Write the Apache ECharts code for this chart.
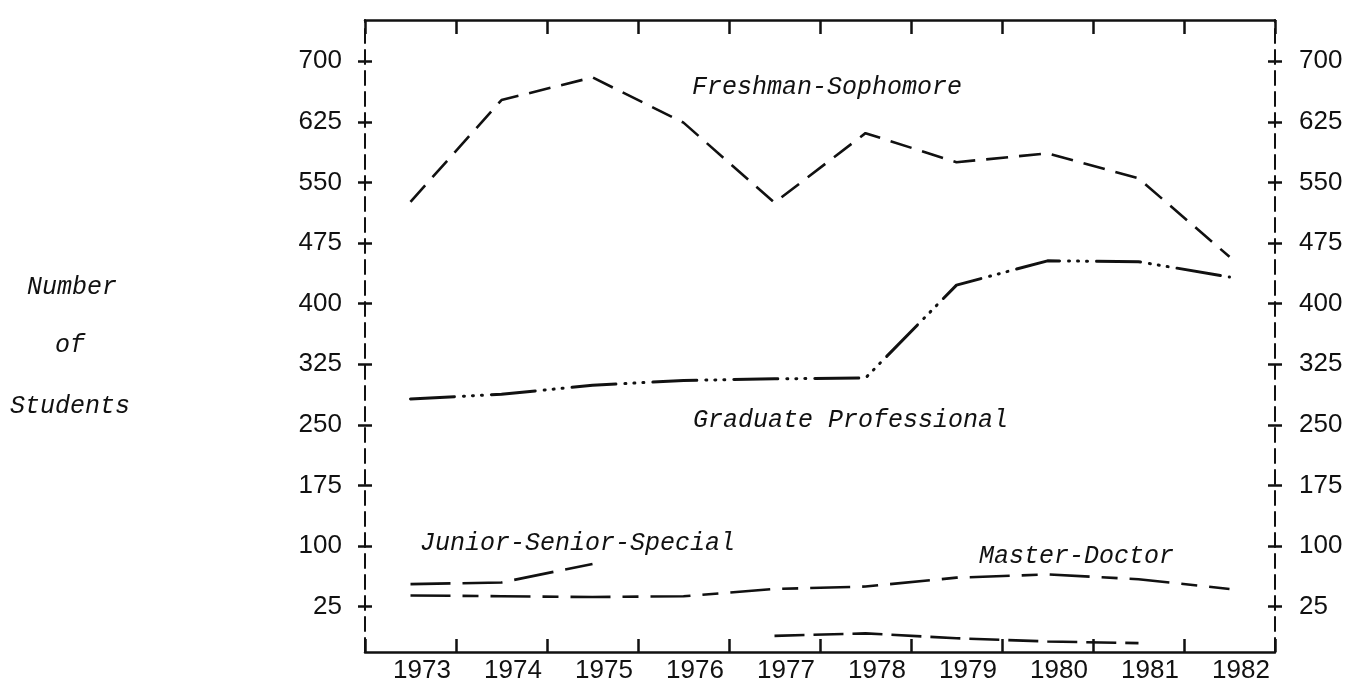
<!DOCTYPE html>
<html>
<head>
<meta charset="utf-8">
<script src="https://cdn.jsdelivr.net/npm/echarts@6/dist/echarts.min.js"></script>
<style>
html,body{margin:0;padding:0;background:#ffffff;}
#chart{width:1362px;height:686px;}
</style>
</head>
<body>
<div id="chart"></div>
<script>
// ---- data ----
const years = ['1973','1974','1975','1976','1977','1978','1979','1980','1981','1982'];
const yTickValues = [25, 100, 175, 250, 325, 400, 475, 550, 625, 700];
const freshmanSophomore    = [526, 652, 680, 624, 525, 611, 575, 586, 555, 458];
const graduateProfessional = [282, 288, 299, 305, 307, 308, 423, 453, 452, 433];
const juniorSeniorSpecial  = [53, 55, 78, null, null, null, null, null, null, null];
const masterDoctor         = [39, 38, 37, 38, 47, 50, 61, 65, 59, 47];
const lowUnlabeled         = [null, null, null, null, -11, -8, -14, -18, -20, null];
const yAxisTitle = ['Number', 'of', 'Students'];

// ---- styling ----
const INK = '#111111';
const NUM_FONT = '"Liberation Sans", Arial, sans-serif';
const TYPE_FONT = '"Liberation Mono", "Courier New", monospace';

function yAxisDef(position, inside, showLabel, showLine) {
  return {
    type: 'value',
    position: position,
    min: -31,
    max: 751,
    splitLine: { show: false },
    axisLine: { show: showLine, onZero: false, lineStyle: { color: INK, width: 2, type: [14, 7] } },
    axisTick: { show: true, inside: inside, length: 7, customValues: yTickValues,
                lineStyle: { color: INK, width: 2.5 } },
    axisLabel: { show: showLabel, customValues: yTickValues,
                 margin: position === 'left' ? 23 : 24,
                 color: INK, fontFamily: NUM_FONT, fontSize: 26 }
  };
}

function xAxisDef(position, showLabel, tickLen) {
  return {
    type: 'category',
    data: years,
    position: position,
    boundaryGap: true,
    axisLine: { show: true, onZero: false, lineStyle: { color: INK, width: 2.5 } },
    axisTick: { show: true, inside: true, length: tickLen, lineStyle: { color: INK, width: 2.5 } },
    axisLabel: { show: showLabel, margin: 6, padding: [0, 0, 0, 23],
                 color: INK, fontFamily: NUM_FONT, fontSize: 26 },
    splitLine: { show: false }
  };
}

function lineSeries(name, data, dash, cap, width) {
  return {
    name: name,
    type: 'line',
    data: data,
    xAxisIndex: 0,
    yAxisIndex: 0,
    symbol: 'none',
    connectNulls: false,
    silent: true,
    lineStyle: { color: INK, width: width || 2.6, type: dash, cap: cap || 'butt' }
  };
}

function label(text, x, y, align) {
  return {
    type: 'text',
    x: x, y: y,
    style: {
      text: text,
      fill: INK,
      font: 'italic 25px ' + TYPE_FONT,
      textAlign: align || 'left',
      textVerticalAlign: 'middle'
    }
  };
}

const chart = echarts.init(document.getElementById('chart'), null, { renderer: 'canvas' });
chart.setOption({
  animation: false,
  backgroundColor: '#ffffff',
  grid: { left: 365, right: 87, top: 20, bottom: 34, containLabel: false },
  xAxis: [ xAxisDef('bottom', true, 13), xAxisDef('top', false, 14) ],
  yAxis: [
    yAxisDef('left', false, true, true),
    yAxisDef('left', true, false, false),
    yAxisDef('right', false, true, true),
    yAxisDef('right', true, false, false)
  ],
  series: [
    lineSeries('Freshman-Sophomore', freshmanSophomore, [22, 11]),
    lineSeries('Graduate Professional', graduateProfessional, [44, 9, 1, 8, 1, 8, 1, 9], 'round', 3),
    lineSeries('Junior-Senior-Special', juniorSeniorSpecial, [40, 12]),
    lineSeries('Master-Doctor', masterDoctor, [40, 12, 16, 12]),
    lineSeries('', lowUnlabeled, [30, 9])
  ],
  graphic: [
    label('Freshman-Sophomore', 692, 87),
    label('Graduate Professional', 693, 420),
    label('Junior-Senior-Special', 420, 543),
    label('Master-Doctor', 979, 556),
    label(yAxisTitle[0], 72, 287, 'center'),
    label(yAxisTitle[1], 70, 345, 'center'),
    label(yAxisTitle[2], 70, 406, 'center')
  ]
});
</script>
</body>
</html>
